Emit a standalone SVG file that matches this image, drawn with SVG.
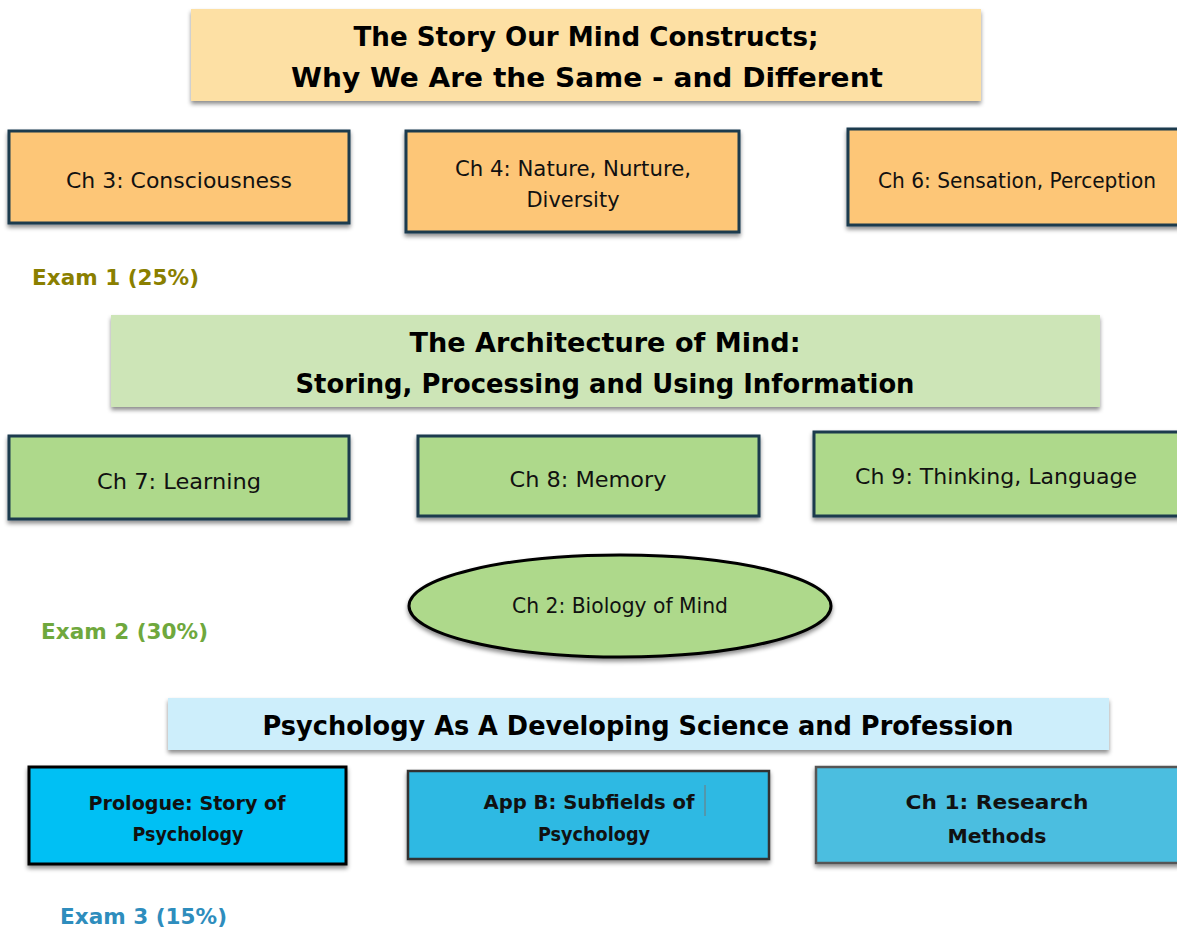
<svg xmlns="http://www.w3.org/2000/svg" width="1177" height="928" viewBox="0 0 1177 928">
<style>
text{font-family:"DejaVu Sans","Liberation Sans",sans-serif;text-anchor:middle;}
.title{font-size:27px;font-weight:bold;fill:#000;}
.ch{font-size:22px;fill:#111;}
.chb{font-size:20px;font-weight:bold;fill:#111;}
.exam{font-size:21px;font-weight:bold;text-anchor:start;}
.box{filter:url(#sh);}
.bnav{stroke:#1a3a4e;stroke-width:3;}
</style>
<defs>
<filter id="sh" x="-5%" y="-10%" width="110%" height="130%">
<feDropShadow dx="0" dy="3" stdDeviation="2" flood-color="#000" flood-opacity="0.45"/>
</filter>
</defs>
<rect width="1177" height="928" fill="#fff"/>
<g id="connectors"></g>

<g id="title1">
<rect class="box" x="191" y="9" width="790" height="92" fill="#fde0a4"/>
<text class="title" x="586" y="46" textLength="465" lengthAdjust="spacingAndGlyphs">The Story Our Mind Constructs;</text>
<text class="title" x="587" y="87" textLength="592" lengthAdjust="spacingAndGlyphs">Why We Are the Same - and Different</text>
</g>

<g id="ch3">
<rect class="box bnav" x="9" y="131" width="340" height="92" fill="#fdc677"/>
<text class="ch" x="179" y="188" textLength="226" lengthAdjust="spacingAndGlyphs">Ch 3: Consciousness</text>
</g>
<g id="ch4">
<rect class="box bnav" x="406" y="131" width="333" height="101" fill="#fdc677"/>
<text class="ch" x="573" y="176" textLength="236" lengthAdjust="spacingAndGlyphs">Ch 4: Nature, Nurture,</text>
<text class="ch" x="573" y="207" textLength="93" lengthAdjust="spacingAndGlyphs">Diversity</text>
</g>
<g id="ch6">
<rect class="box bnav" x="848" y="129" width="331" height="96" fill="#fdc677"/>
<text class="ch" x="1017" y="188" textLength="278" lengthAdjust="spacingAndGlyphs">Ch 6: Sensation, Perception</text>
</g>
<g id="exam1">
<text class="exam" x="32" y="285" fill="#8a7f00" textLength="167" lengthAdjust="spacingAndGlyphs">Exam 1 (25%)</text>
</g>

<g id="title2">
<rect class="box" x="111" y="315" width="989" height="92" fill="#cde5b7"/>
<text class="title" x="605" y="352" textLength="391" lengthAdjust="spacingAndGlyphs">The Architecture of Mind:</text>
<text class="title" x="605" y="393" textLength="619" lengthAdjust="spacingAndGlyphs">Storing, Processing and Using Information</text>
</g>

<g id="ch7">
<rect class="box bnav" x="9" y="436" width="340" height="83" fill="#aed98b"/>
<text class="ch" x="179" y="489" textLength="164" lengthAdjust="spacingAndGlyphs">Ch 7: Learning</text>
</g>
<g id="ch8">
<rect class="box bnav" x="418" y="436" width="341" height="80" fill="#aed98b"/>
<text class="ch" x="588" y="487" textLength="157" lengthAdjust="spacingAndGlyphs">Ch 8: Memory</text>
</g>
<g id="ch9">
<rect class="box bnav" x="814" y="432" width="365" height="84" fill="#aed98b"/>
<text class="ch" x="996" y="484" textLength="282" lengthAdjust="spacingAndGlyphs">Ch 9: Thinking, Language</text>
</g>
<g id="ch2">
<ellipse class="box" cx="620" cy="606" rx="211" ry="51" fill="#aed98b" stroke="#000" stroke-width="3"/>
<text class="ch" x="620" y="613" font-size="20" textLength="216" lengthAdjust="spacingAndGlyphs">Ch 2: Biology of Mind</text>
</g>
<g id="exam2">
<text class="exam" x="41" y="639" fill="#6fa83d" textLength="167" lengthAdjust="spacingAndGlyphs">Exam 2 (30%)</text>
</g>

<g id="title3">
<rect class="box" x="168" y="698" width="941" height="52" fill="#cdeefb"/>
<text class="title" x="638" y="735" textLength="751" lengthAdjust="spacingAndGlyphs">Psychology As A Developing Science and Profession</text>
</g>

<g id="prologue">
<rect class="box" x="29" y="767" width="317" height="97" fill="#00c0f4" stroke="#000" stroke-width="3"/>
<text class="chb" x="187" y="810" textLength="197" lengthAdjust="spacingAndGlyphs">Prologue: Story of</text>
<text class="chb" x="188" y="841" textLength="111" lengthAdjust="spacingAndGlyphs">Psychology</text>
</g>
<g id="appb">
<rect class="box" x="408" y="771" width="361" height="88" fill="#2fb9e3" stroke="#333" stroke-width="2.5"/>
<text class="chb" x="589" y="809" fill="#2a2a2a" textLength="211" lengthAdjust="spacingAndGlyphs">App B: Subfields of</text>
<text class="chb" x="594" y="841" fill="#2a2a2a" textLength="112" lengthAdjust="spacingAndGlyphs">Psychology</text>
<line x1="705" y1="785" x2="705" y2="816" stroke="#777" stroke-width="1"/>
</g>
<g id="ch1">
<rect class="box" x="816" y="767" width="363" height="96" fill="#4bbee0" stroke="#555" stroke-width="2.5"/>
<text class="chb" x="997" y="809" font-size="23" fill="#444" textLength="183" lengthAdjust="spacingAndGlyphs">Ch 1: Research</text>
<text class="chb" x="997" y="843" font-size="23" fill="#444" textLength="99" lengthAdjust="spacingAndGlyphs">Methods</text>
</g>
<g id="exam3">
<text class="exam" x="60" y="924" fill="#2e8dbd" textLength="167" lengthAdjust="spacingAndGlyphs">Exam 3 (15%)</text>
</g>
</svg>
